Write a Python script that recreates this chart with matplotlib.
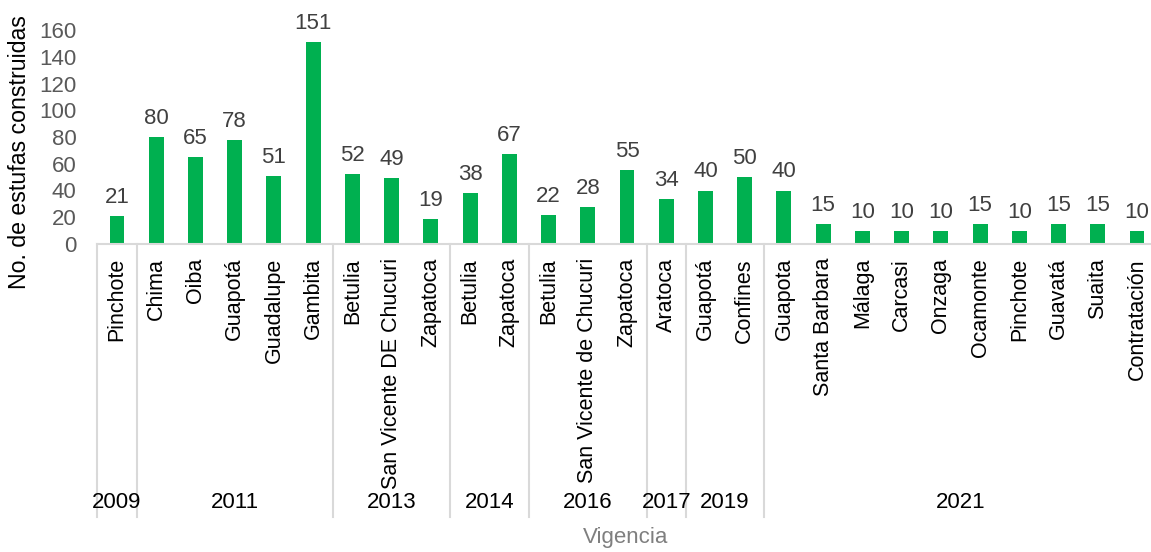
import matplotlib.pyplot as plt
from matplotlib.transforms import blended_transform_factory

# Stoves built per municipality, grouped by year of the contract
years = ["2009", "2011", "2013", "2014", "2016", "2017", "2019", "2021"]
group_sizes = [1, 5, 3, 2, 3, 1, 2, 10]
municipios = [
    "Pinchote",
    "Chima", "Oiba", "Guapotá", "Guadalupe", "Gambita",
    "Betulia", "San Vicente DE Chucuri", "Zapatoca",
    "Betulia", "Zapatoca",
    "Betulia", "San Vicente de Chucuri", "Zapatoca",
    "Aratoca",
    "Guapotá", "Confines",
    "Guapota", "Santa Barbara", "Málaga", "Carcasi", "Onzaga",
    "Ocamonte", "Pinchote", "Guavatá", "Suaita", "Contratación",
]
estufas = [21, 80, 65, 78, 51, 151, 52, 49, 19, 38, 67, 22, 28, 55, 34,
           40, 50, 40, 15, 10, 10, 10, 15, 10, 15, 15, 10]

GREEN = "#00B050"
AXIS_GRAY = "#D9D9D9"
TICK_GRAY = "#595959"
LABEL_GRAY = "#404040"

plt.rcParams["font.family"] = ["Liberation Sans Narrow", "Liberation Sans", "DejaVu Sans"]

W, H = 1151, 552
fig = plt.figure(figsize=(W / 100, H / 100), dpi=100)
x0, x1 = 97.4, 1156.6          # plot area, pixels from the left
y_top, y_base = 30, 244         # plot area, pixels from the top
ax = fig.add_axes([x0 / W, 1 - y_base / H, (x1 - x0) / W, (y_base - y_top) / H])

pos = list(range(len(estufas)))
ax.bar(pos, estufas, width=0.38, color=GREEN, zorder=2)
for x, v in zip(pos, estufas):
    ax.text(x, v + 6, str(v), ha="center", va="bottom", fontsize=16,
            color=LABEL_GRAY)

ax.set_xlim(-0.5, len(estufas) - 0.5)
ax.set_ylim(0, 160)
ax.set_yticks(range(0, 161, 20))
ax.tick_params(axis="y", length=0, pad=15, labelsize=16, labelcolor=TICK_GRAY)
ax.set_xticks([])
for side in ["top", "right", "left", "bottom"]:
    ax.spines[side].set_visible(False)

# Two-level category axis drawn by hand below the baseline
tr = blended_transform_factory(ax.transData, fig.transFigure)
fy = lambda px: 1 - px / H

ax.plot([-0.5, len(estufas) - 0.5], [fy(y_base)] * 2, color=AXIS_GRAY, lw=1.5,
        transform=tr, clip_on=False)

for x, name in zip(pos, municipios):
    ax.text(x, fy(258), name, rotation=90, ha="center", va="top",
            fontsize=15.5, color="black", transform=tr)

edges = [-0.5]
for n in group_sizes:
    edges.append(edges[-1] + n)
for e in edges[:-1]:
    ax.plot([e, e], [fy(y_base), fy(473)], color=AXIS_GRAY, lw=1.5,
            transform=tr, clip_on=False)
    ax.plot([e, e], [fy(475), fy(517)], color=AXIS_GRAY, lw=1.5,
            transform=tr, clip_on=False)
for yr, a, b in zip(years, edges[:-1], edges[1:]):
    ax.text((a + b) / 2, fy(503), yr, ha="center", va="center",
            fontsize=16, color="black", transform=tr)

fig.text(626 / W, fy(537), "Vigencia", ha="center", va="center",
         fontsize=16, color="#7F7F7F")
fig.text(20 / W, fy(152), "No. de estufas construidas", rotation=90,
         ha="center", va="center", fontsize=16.7, color="black")

fig.savefig("out.png", dpi=100, facecolor="white")
